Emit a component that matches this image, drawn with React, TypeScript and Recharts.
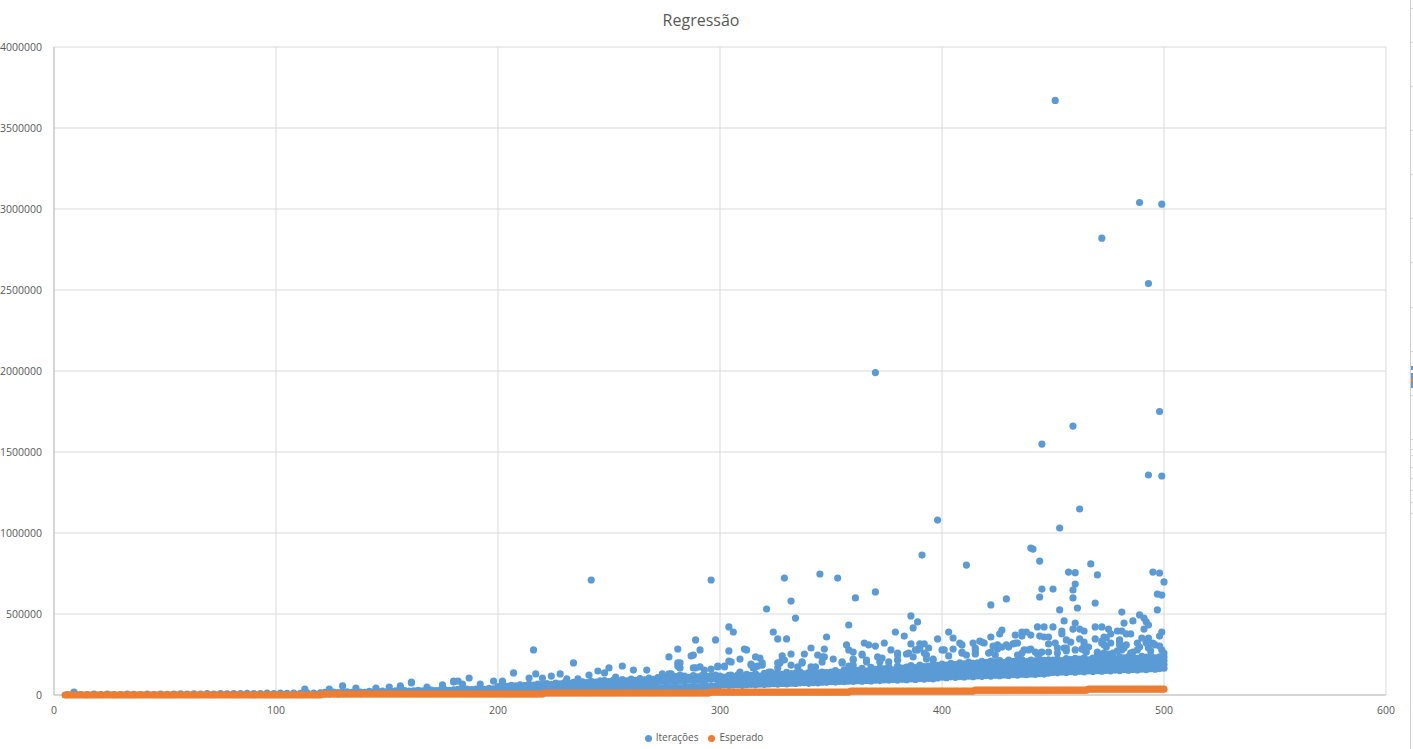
import React from 'react'
import { ScatterChart, Scatter, XAxis, YAxis, CartesianGrid, Legend } from 'recharts'

const xTicks = [0, 100, 200, 300, 400, 500, 600]
const yTicks = [0, 500000, 1000000, 1500000, 2000000, 2500000, 3000000, 3500000, 4000000]

// Iterações, values below are in thousands
const inicioX = [6, 9, 12, 15, 18, 21, 24, 27, 30, 33, 36, 39, 42, 45, 48, 51, 54, 57, 60, 63, 66, 69, 72, 75, 78, 81, 84, 87, 90, 93, 96, 99, 102, 105, 108, 111, 114, 117, 120]
const inicioY = [2, 14, 3, 2, 5, 3, 6, 2, 3, 6, 4, 3, 6, 3, 6, 4, 6, 7, 5, 7, 5, 8, 6, 8, 7, 9, 8, 10, 8, 9, 11, 9, 11, 10, 12, 10, 13, 11, 12]

const meioX = [120, 122, 124, 126, 128, 130, 132, 134, 136, 138, 140, 142, 144, 146, 148, 150, 152, 154, 156, 158, 160, 162, 164, 166, 168, 170, 172, 174, 176, 178, 180, 182, 184, 186, 188, 190, 192, 194, 196, 198,
  200, 202, 204, 206, 208, 210, 212, 214, 216, 218, 220, 222, 224, 226, 228, 230, 232, 234, 236, 238, 240, 242, 244, 246, 248, 250, 252, 254, 256, 258, 260, 262, 264, 266, 268, 270, 272, 274, 276, 278, 280, 282, 284, 286, 288, 290, 292, 294, 296, 298]
const meioBaixo = [6, 7, 6, 8, 7, 9, 8, 9, 10, 9, 11, 10, 11, 12, 11, 13, 12, 13, 14, 13, 15, 14, 15, 16, 15, 17, 16, 17, 18, 17, 19, 18, 19, 20, 19, 21, 20, 21, 22, 21,
  23, 22, 24, 23, 25, 24, 26, 25, 27, 26, 28, 27, 29, 28, 30, 31, 30, 32, 31, 33, 32, 34, 33, 35, 36, 35, 37, 36, 38, 37, 39, 40, 39, 41, 42, 41, 43, 44, 45, 46, 47, 46, 48, 49, 50, 52, 51, 53, 55, 56]
const meioAlto = [14, 16, 13, 18, 15, 17, 19, 16, 20, 18, 17, 22, 19, 21, 24, 20, 23, 25, 22, 27, 24, 26, 29, 25, 28, 31, 27, 30, 33, 29, 32, 35, 31, 37, 34, 36, 39, 35, 41, 38,
  42, 45, 41, 47, 44, 49, 46, 51, 48, 53, 50, 55, 52, 57, 54, 60, 56, 62, 58, 64, 60, 66, 62, 68, 70, 65, 72, 67, 74, 69, 76, 71, 78, 73, 80, 75, 82, 85, 79, 87, 81, 89, 84, 91, 86, 93, 88, 95, 97, 99]
const meioTopoX = [200, 202, 204, 206, 208, 210, 212, 214, 216, 218, 220, 222, 224, 226, 228, 230, 232, 234, 236, 238, 240, 242, 244, 246, 248, 250, 252, 254, 256, 258, 260, 262, 264, 266, 268, 270, 272, 274, 276, 278, 280, 282, 284, 286, 288, 290, 292, 294, 296, 298]
const meioTopo = [52, 57, 54, 60, 56, 63, 58, 65, 61, 68, 64, 70, 66, 73, 69, 76, 71, 78, 74, 81, 76, 84, 79, 87, 89, 83, 92, 86, 95, 88, 98, 91, 101, 94, 104, 97, 107, 100, 110, 103, 113, 106, 116, 109, 119, 112, 122, 115, 120, 123]

const fimX = [300, 302, 304, 306, 308, 310, 312, 314, 316, 318, 320, 322, 324, 326, 328, 330, 332, 334, 336, 338, 340, 342, 344, 346, 348,
  350, 352, 354, 356, 358, 360, 362, 364, 366, 368, 370, 372, 374, 376, 378, 380, 382, 384, 386, 388, 390, 392, 394, 396, 398,
  400, 402, 404, 406, 408, 410, 412, 414, 416, 418, 420, 422, 424, 426, 428, 430, 432, 434, 436, 438, 440, 442, 444, 446, 448,
  450, 452, 454, 456, 458, 460, 462, 464, 466, 468, 470, 472, 474, 476, 478, 480, 482, 484, 486, 488, 490, 492, 494, 496, 498, 500]
const fimFaixa1 = [58, 61, 59, 62, 63, 60, 64, 66, 63, 67, 65, 68, 70, 67, 71, 69, 73, 71, 74, 76, 72, 77, 75, 79, 78,
  83, 80, 84, 82, 86, 84, 88, 85, 90, 87, 91, 89, 93, 91, 95, 92, 97, 94, 99, 96, 101, 98, 103, 100, 105,
  110, 107, 112, 109, 114, 111, 116, 113, 118, 115, 120, 117, 122, 119, 124, 121, 126, 123, 128, 125, 130, 127, 132, 129, 135,
  140, 137, 142, 139, 144, 141, 146, 143, 148, 145, 150, 147, 152, 149, 154, 151, 156, 153, 158, 155, 160, 157, 162, 159, 163, 165]
const fimFaixa2 = [78, 83, 76, 85, 80, 88, 79, 90, 84, 86, 92, 83, 95, 89, 97, 87, 99, 93, 101, 96, 94, 104, 98, 106, 100,
  103, 108, 101, 111, 106, 113, 109, 116, 107, 118, 112, 120, 115, 123, 113, 125, 118, 128, 122, 126, 131, 124, 133, 127, 135,
  137, 141, 135, 144, 138, 146, 142, 148, 140, 151, 145, 153, 147, 155, 143, 157, 150, 159, 152, 161, 149, 163, 156, 165, 158,
  165, 169, 162, 172, 167, 174, 170, 176, 168, 178, 173, 180, 175, 182, 171, 184, 177, 186, 179, 183, 188, 181, 190, 185, 192, 188]
const fimFaixa3 = [97, 92, 102, 95, 105, 99, 108, 101, 110, 104, 112, 107, 109, 115, 111, 118, 113, 120, 117, 123, 119, 126, 121, 128, 124,
  122, 130, 127, 133, 125, 136, 131, 138, 134, 141, 137, 144, 139, 146, 142, 149, 145, 152, 147, 155, 150, 157, 153, 160, 158,
  163, 158, 167, 161, 170, 165, 172, 168, 175, 171, 177, 173, 180, 176, 182, 178, 184, 180, 186, 183, 188, 185, 190, 187, 189,
  190, 194, 187, 197, 192, 199, 195, 201, 193, 203, 198, 205, 200, 207, 196, 209, 202, 211, 204, 208, 213, 206, 215, 210, 212, 211]
const fimFaixa4 = [117, 110, 122, 114, 125, 118, 128, 121, 131, 116, 134, 124, 129, 137, 127, 140, 132, 135, 143, 130, 138, 146, 136, 141, 139,
  142, 150, 138, 155, 147, 160, 152, 165, 148, 170, 158, 168, 162, 175, 156, 178, 166, 172, 181, 169, 185, 176, 179, 188, 183,
  190, 184, 196, 187, 199, 192, 203, 195, 198, 207, 201, 210, 204, 213, 200, 215, 208, 212, 218, 206, 216, 211, 220, 214, 217,
  216, 222, 213, 225, 219, 227, 221, 230, 217, 228, 224, 233, 226, 231, 220, 235, 229, 237, 232, 227, 239, 234, 241, 230, 236, 235]

// the loose points above the dense band
const soltosX = [451, 489, 499, 472, 493, 370, 498, 459, 445, 493, 499, 462, 398, 453, 440, 441, 391, 444, 411, 467, 457, 460, 470, 495, 498, 345, 329, 353, 242, 296, 500, 460, 459, 445, 450, 370, 361, 444, 429, 459, 497, 499, 332, 422, 469, 461, 453, 497, 321, 481, 334, 386, 389, 387, 358, 489, 491, 482, 486, 492, 493, 491, 499, 498, 455, 460, 443, 446, 450, 469, 472, 475, 459, 462, 464, 454, 454, 427, 426, 433, 436, 438, 436, 440, 444, 446, 448, 479, 481, 476, 483, 485, 490, 493, 379, 383, 403, 405, 398, 422,
  357, 365, 367, 370, 374, 386, 390, 392, 394, 377, 358, 360, 364, 380, 385, 390, 388, 393, 401, 408, 409, 414, 417, 419, 415, 415, 423, 425, 427, 430, 432, 434, 437, 440, 444, 448, 451, 448, 452, 456, 458, 462, 464, 466, 464, 456, 473, 474, 469, 472, 476, 473, 480, 483, 480, 488, 492, 495, 498, 470, 473, 477, 500, 486, 409, 411, 421, 434, 396, 371, 360,
  216, 207, 234, 304, 306, 324, 326, 330, 348, 289, 298, 281, 291, 287, 288, 277, 304, 311, 312, 341, 347, 332, 338, 344, 328, 316, 318, 309, 304, 281, 282, 256, 250, 267, 261, 245, 248, 241, 228, 217, 224, 214, 220, 202, 236, 231, 253, 274, 277, 282, 288, 291, 299, 302, 296, 314, 315, 319, 317, 327, 329, 337, 341, 346, 351, 355, 358, 309, 322,
  130, 161, 187, 180, 182, 198, 151, 156, 184, 113, 9,
  366, 373, 380, 387, 393, 403, 415, 424, 436, 445, 456, 463, 479, 482, 489, 494, 475, 442,
  124, 136, 145, 156, 161, 168, 175, 180, 192, 202,
  278, 282, 281, 289, 293, 299, 302, 305, 314, 316, 319, 305, 323, 326, 328, 326, 332, 337, 335, 343, 347, 346, 355, 360, 360, 364, 366, 372, 380, 376, 380,
  384, 389, 392, 396, 400, 405, 409, 415, 418, 422, 425, 429, 433, 439, 443, 452, 455, 460, 464, 465, 470, 472, 474, 477, 480, 481, 485, 488, 492, 493, 496, 499]
const soltosY = [3670, 3040, 3030, 2820, 2540, 1990, 1750, 1660, 1549, 1358, 1352, 1148, 1080, 1031, 907, 901, 864, 827, 802, 809, 759, 755, 741, 759, 753, 747, 722, 722, 710, 710, 698, 685, 648, 654, 654, 636, 599, 605, 593, 599, 623, 617, 580, 556, 568, 537, 525, 525, 531, 512, 475, 488, 451, 414, 432, 494, 475, 444, 457, 451, 432, 407, 389, 364, 457, 444, 420, 420, 420, 420, 420, 407, 407, 407, 395, 395, 377, 401, 377, 370, 389, 389, 364, 370, 364, 358, 358, 395, 395, 377, 377, 377, 352, 352, 389, 364, 389, 352, 346, 358,
  309, 321, 309, 302, 321, 315, 315, 315, 290, 278, 278, 265, 253, 259, 259, 290, 278, 247, 278, 321, 309, 321, 333, 321, 290, 259, 302, 284, 296, 296, 315, 321, 278, 284, 259, 315, 321, 265, 290, 340, 327, 346, 327, 296, 278, 290, 358, 352, 346, 333, 321, 309, 340, 309, 309, 321, 327, 321, 302, 259, 259, 235, 259, 265, 259, 247, 259, 247, 222, 235, 222,
  278, 136, 198, 420, 389, 389, 346, 346, 358, 340, 340, 284, 278, 241, 247, 235, 272, 284, 278, 290, 284, 253, 253, 247, 241, 235, 228, 222, 210, 198, 198, 179, 167, 154, 154, 148, 136, 123, 130, 130, 117, 105, 105, 86, 99, 99, 111, 130, 130, 167, 167, 173, 179, 179, 160, 191, 167, 198, 179, 198, 216, 204, 173, 235, 222, 204, 179, 142, 142,
  56, 80, 105, 86, 86, 86, 49, 49, 68, 37, 18,
  216, 228, 216, 235, 222, 241, 253, 247, 259, 265, 272, 284, 272, 290, 296, 272, 253, 265,
  37, 43, 43, 56, 74, 49, 62, 80, 68, 80,
  130, 123, 179, 167, 154, 173, 173, 204, 185, 173, 185, 123, 142, 167, 216, 198, 185, 198, 173, 173, 235, 204, 198, 216, 185, 247, 204, 204, 247, 204, 216,
  253, 278, 259, 216, 278, 284, 265, 278, 327, 265, 309, 309, 321, 278, 253, 259, 290, 278, 309, 265, 265, 321, 296, 259, 327, 278, 259, 278, 321, 290, 309, 278]

// Esperado, one list of x per step of the staircase and one level for each
const esperadoNiveis = [0, 6000, 12000, 18000, 24000, 30000, 36000]
const esperadoX = [
  [5, 6, 7, 8, 9, 10, 11, 12, 13, 14, 15, 16, 17, 18, 19, 20, 21, 22, 23, 24, 25, 26, 27, 28, 29, 30, 31, 32, 33, 34, 35, 36, 37, 38, 39, 40, 41, 42, 43, 44, 45, 46, 47, 48, 49, 50, 51, 52, 53, 54, 55, 56, 57, 58, 59, 60, 61, 62, 63, 64, 65, 66, 67, 68, 69, 70, 71, 72, 73, 74, 75, 76, 77, 78, 79, 80, 81, 82, 83, 84, 85, 86, 87, 88, 89, 90, 91, 92, 93, 94, 95, 96, 97, 98, 99, 100, 101, 102, 103, 104, 105, 106, 107, 108, 109, 110, 111, 112, 113, 114, 115, 116, 117, 118, 119, 120],
  [121, 122, 123, 124, 125, 126, 127, 128, 129, 130, 131, 132, 133, 134, 135, 136, 137, 138, 139, 140, 141, 142, 143, 144, 145, 146, 147, 148, 149, 150, 151, 152, 153, 154, 155, 156, 157, 158, 159, 160, 161, 162, 163, 164, 165, 166, 167, 168, 169, 170, 171, 172, 173, 174, 175, 176, 177, 178, 179, 180, 181, 182, 183, 184, 185, 186, 187, 188, 189, 190, 191, 192, 193, 194, 195, 196, 197, 198, 199, 200, 201, 202, 203, 204, 205, 206, 207, 208, 209, 210, 211, 212, 213, 214, 215, 216, 217, 218, 219, 220],
  [221, 222, 223, 224, 225, 226, 227, 228, 229, 230, 231, 232, 233, 234, 235, 236, 237, 238, 239, 240, 241, 242, 243, 244, 245, 246, 247, 248, 249, 250, 251, 252, 253, 254, 255, 256, 257, 258, 259, 260, 261, 262, 263, 264, 265, 266, 267, 268, 269, 270, 271, 272, 273, 274, 275, 276, 277, 278, 279, 280, 281, 282, 283, 284, 285, 286, 287, 288, 289, 290, 291, 292, 293, 294, 295],
  [296, 297, 298, 299, 300, 301, 302, 303, 304, 305, 306, 307, 308, 309, 310, 311, 312, 313, 314, 315, 316, 317, 318, 319, 320, 321, 322, 323, 324, 325, 326, 327, 328, 329, 330, 331, 332, 333, 334, 335, 336, 337, 338, 339, 340, 341, 342, 343, 344, 345, 346, 347, 348, 349, 350, 351, 352, 353, 354, 355, 356, 357, 358],
  [359, 360, 361, 362, 363, 364, 365, 366, 367, 368, 369, 370, 371, 372, 373, 374, 375, 376, 377, 378, 379, 380, 381, 382, 383, 384, 385, 386, 387, 388, 389, 390, 391, 392, 393, 394, 395, 396, 397, 398, 399, 400, 401, 402, 403, 404, 405, 406, 407, 408, 409, 410, 411, 412, 413, 414],
  [415, 416, 417, 418, 419, 420, 421, 422, 423, 424, 425, 426, 427, 428, 429, 430, 431, 432, 433, 434, 435, 436, 437, 438, 439, 440, 441, 442, 443, 444, 445, 446, 447, 448, 449, 450, 451, 452, 453, 454, 455, 456, 457, 458, 459, 460, 461, 462, 463, 464, 465],
  [466, 467, 468, 469, 470, 471, 472, 473, 474, 475, 476, 477, 478, 479, 480, 481, 482, 483, 484, 485, 486, 487, 488, 489, 490, 491, 492, 493, 494, 495, 496, 497, 498, 499, 500],
]

// tick marks of the neighbouring chart that the screenshot cut off
const vizinhoTicks = [8, 42, 86, 130, 174, 218, 262, 307, 351, 395, 439, 449, 455, 467, 478, 490, 502, 513]

const pontos = (xs: number[], ys: number[]) => xs.map((x, i) => ({ x, y: ys[i] * 1000 }))

const iteracoes = [
  ...pontos(inicioX, inicioY),
  ...pontos(meioX, meioBaixo),
  ...pontos(meioX, meioAlto),
  ...pontos(meioTopoX, meioTopo),
  ...pontos(fimX, fimFaixa1),
  ...pontos(fimX, fimFaixa2),
  ...pontos(fimX, fimFaixa3),
  ...pontos(fimX, fimFaixa4),
  ...pontos(soltosX, soltosY),
]

const esperado = esperadoX.flatMap((xs, i) => xs.map((x) => ({ x, y: esperadoNiveis[i] })))

const FONT = '"Open Sans", sans-serif'
const tickStyle = { fontSize: 10.5, fill: '#595959', fontFamily: FONT }

const Ponto = (props: any) => <circle cx={props.cx} cy={props.cy} r={3.6} fill={props.fill} />

export default function App() {
  return (
    <div style={{ position: 'absolute', left: 0, top: 0, width: 1413, height: 749, background: '#fff', overflow: 'hidden' }}>
      <div style={{ position: 'absolute', left: 0, width: 1402, top: 9, textAlign: 'center', fontFamily: FONT, fontSize: 16, color: '#595959' }}>
        Regressão
      </div>
      <ScatterChart width={1413} height={749} margin={{ top: 47, right: 27, bottom: 0, left: 0 }}>
        <CartesianGrid stroke="#d9d9d9" strokeWidth={1} />
        <XAxis
          type="number"
          dataKey="x"
          domain={[0, 600]}
          ticks={xTicks}
          height={30}
          stroke="#bfbfbf"
          tickLine={false}
          tickMargin={6}
          tick={tickStyle}
          interval={0}
        />
        <YAxis
          type="number"
          dataKey="y"
          domain={[0, 4000000]}
          ticks={yTicks}
          width={54}
          stroke="#bfbfbf"
          tickLine={false}
          tickMargin={6}
          tick={tickStyle}
          interval={0}
        />
        <Legend
          verticalAlign="bottom"
          align="center"
          iconType="circle"
          iconSize={7}
          height={24}
          itemSorter={null}
          wrapperStyle={{ fontFamily: FONT, fontSize: 10, transform: 'translate(16px, 5px)' }}
          formatter={(value: string) => <span style={{ color: '#595959' }}>{value}</span>}
        />
        <Scatter name="Iterações" data={iteracoes} fill="#5b9bd5" shape={Ponto} isAnimationActive={false} />
        <Scatter name="Esperado" data={esperado} fill="#ed7d31" shape={Ponto} isAnimationActive={false} />
      </ScatterChart>
      {/* edge of the neighbouring chart cut off by the screenshot */}
      <div style={{ position: 'absolute', left: 1410, top: 0, width: 1, height: 749, background: '#d0d0d0' }} />
      {vizinhoTicks.map((t) => (
        <div key={t} style={{ position: 'absolute', left: 1411, top: t, width: 2, height: 1, background: '#d9d9d9' }} />
      ))}
      <div style={{ position: 'absolute', left: 1411, top: 366, width: 2, height: 4, background: '#5b9bd5' }} />
      <div style={{ position: 'absolute', left: 1411, top: 373, width: 2, height: 15, background: '#5b9bd5' }} />
      <div style={{ position: 'absolute', left: 1411, top: 379, width: 2, height: 3, background: '#ed7d31' }} />
    </div>
  )
}
